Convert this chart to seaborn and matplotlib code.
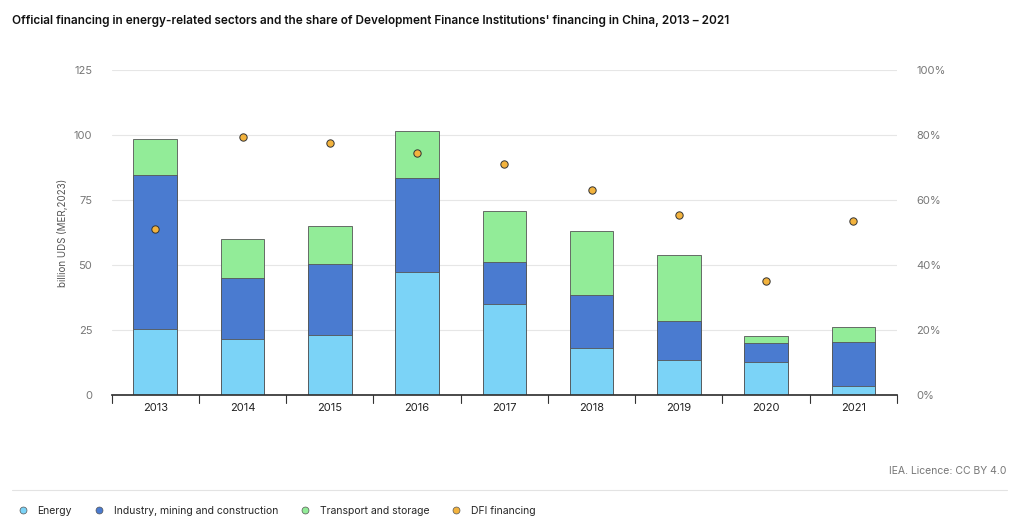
import numpy as np
import pandas as pd
import seaborn as sns
import matplotlib.pyplot as plt
from matplotlib.lines import Line2D

years = ["2013", "2014", "2015", "2016", "2017", "2018", "2019", "2020", "2021"]
energy = [25.5, 21.5, 23, 47.5, 35, 18, 13.5, 12.5, 3.5]
industry = [59, 23.5, 27.5, 36, 16, 20.5, 15, 7.5, 17]
transport = [14, 15, 14.5, 18, 20, 24.5, 25.5, 2.5, 5.5]
dfi_share = [51, 79.5, 77.5, 74.5, 71, 63, 55.5, 35, 53.5]

c_energy = "#7bd3f7"
c_ind = "#4a7bd0"
c_trans = "#92ec98"
c_dfi = "#f3b33d"

sns.set_theme(style="white")
plt.rcParams['font.family'] = ['Inter', 'DejaVu Sans']

df = pd.DataFrame({"year": years, "energy": energy, "industry": industry, "transport": transport})
df["lvl2"] = df["energy"] + df["industry"]
df["lvl3"] = df["lvl2"] + df["transport"]

fig = plt.figure(figsize=(10.24, 5.28), dpi=100)
ax = fig.add_axes([0.109, 0.252, 0.767, 0.615])
kw = dict(width=0.5, edgecolor="#555555", linewidth=0.6, ax=ax)
sns.barplot(data=df, x="year", y="lvl3", color=c_trans, saturation=1, **kw)
sns.barplot(data=df, x="year", y="lvl2", color=c_ind, saturation=1, **kw)
sns.barplot(data=df, x="year", y="energy", color=c_energy, saturation=1, **kw)

ax.set_ylim(0, 125)
ax.set_xlim(-0.5, 8.5)
ax.set_yticks([0, 25, 50, 75, 100, 125])
ax.set_ylabel("billion UDS (MER,2023)", fontsize=7, color="#555555")
ax.set_xlabel("")
ax.tick_params(axis="y", labelsize=8, colors="#777777", length=0, pad=14)
ax.tick_params(axis="x", labelsize=8, colors="#222222", length=0, pad=6)
ax.grid(axis="y", color="#e6e6e6", linewidth=0.8)
ax.set_axisbelow(True)
for s in ["top", "right", "left"]:
    ax.spines[s].set_visible(False)
ax.spines["bottom"].set_color("#333333")
for b in np.arange(-0.5, 9, 1):
    ax.plot([b, b], [0, -3], color="#333333", lw=0.8, clip_on=False)

ax2 = ax.twinx()
sns.scatterplot(x=np.arange(9), y=dfi_share, ax=ax2, color=c_dfi, edgecolor="#333333",
                linewidth=0.7, s=28, zorder=5)
ax2.set_ylim(0, 100)
ax2.set_yticks([0, 20, 40, 60, 80, 100])
ax2.set_yticklabels([f"{v}%" for v in [0, 20, 40, 60, 80, 100]])
ax2.tick_params(axis="y", labelsize=8, colors="#777777", length=0, pad=14)
for s in ax2.spines.values():
    s.set_visible(False)

fig.text(0.012, 0.955, "Official financing in energy-related sectors and the share of Development Finance Institutions' financing in China, 2013 – 2021",
         fontsize=8.5, color="#111111", fontweight="semibold")
fig.text(0.983, 0.102, "IEA. Licence: CC BY 4.0", fontsize=7.5, color="#777777", ha="right")
fig.add_artist(Line2D([0.012, 0.983], [0.072, 0.072], color="#e3e3e3", lw=0.8))

handles = [Line2D([], [], marker="o", ls="", markerfacecolor=c, markeredgecolor="#555555",
                  markeredgewidth=0.5, markersize=5) for c in [c_energy, c_ind, c_trans, c_dfi]]
labels = ["Energy", "Industry, mining and construction", "Transport and storage", "DFI financing"]
fig.legend(handles, labels, loc="lower left", bbox_to_anchor=(0.003, 0.005), ncol=4, frameon=False,
           fontsize=7.5, handletextpad=0.4, columnspacing=1.6)

fig.savefig("out.png", dpi=100)
